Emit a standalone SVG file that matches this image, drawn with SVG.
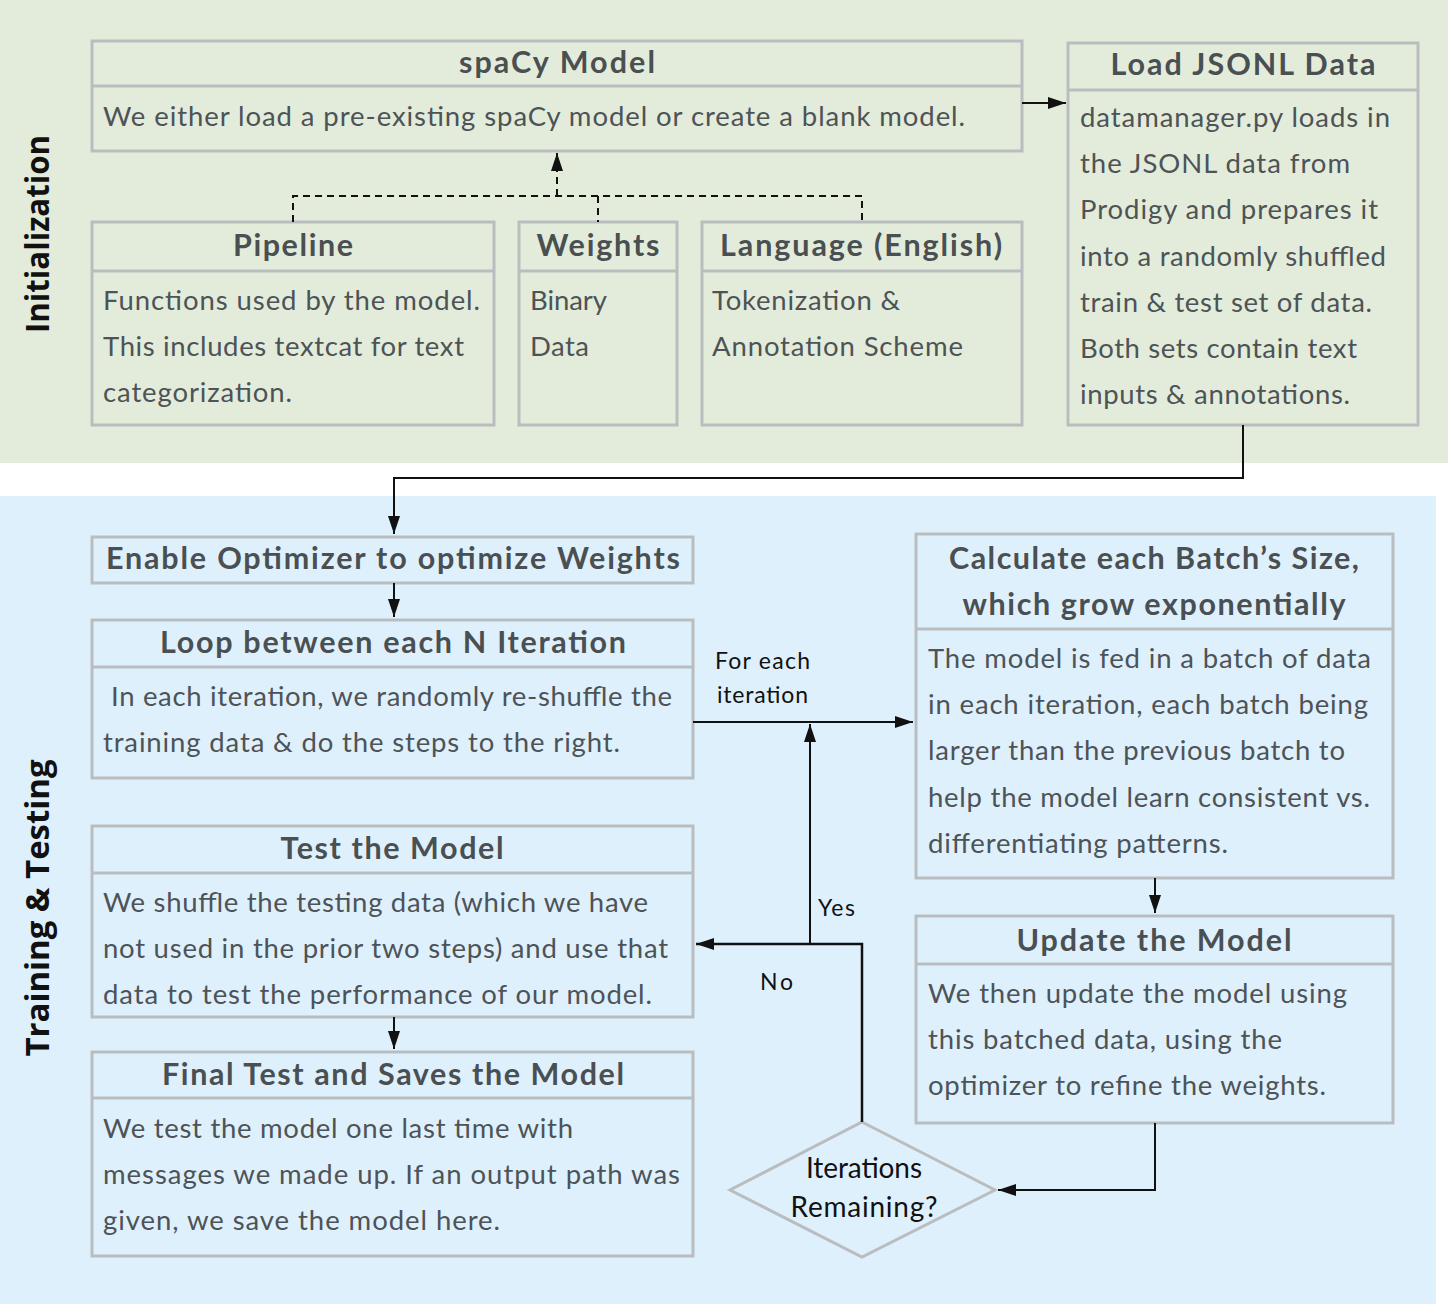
<svg xmlns="http://www.w3.org/2000/svg" width="1448" height="1304" viewBox="0 0 1448 1304">
<defs>
<style>
.box{fill:none;stroke:#babdbf;stroke-width:3}
.div{stroke:#babdbf;stroke-width:3}
text{font-family:Lato,"Liberation Sans",sans-serif}
.t{font-weight:bold;font-size:30.5px;fill:#4a4f52;text-anchor:middle}
.b{font-size:27.5px;fill:#4d5356}
.lab{font-size:23px;fill:#111}
.dia{font-size:28px;fill:#111;text-anchor:middle}
.side{font-family:"Open Sans","Liberation Sans",sans-serif;font-weight:bold;font-size:31.5px;fill:#111;text-anchor:middle}
.c{fill:none;stroke:#111;stroke-width:2}
.d{fill:none;stroke:#111;stroke-width:2;stroke-dasharray:7 5}
</style>
<marker id="ahl" viewBox="0 0 18 12" refX="18" refY="6" markerWidth="18" markerHeight="12" markerUnits="userSpaceOnUse" orient="auto">
<path d="M0,0 L18,6 L0,12 z" fill="#111"/>
</marker>
</defs>
<rect x="0" y="0" width="1448" height="463" fill="#e3ecda"/>
<rect x="0" y="496" width="1436" height="808" fill="#dff0fd"/>
<text class="side" transform="translate(49,234) rotate(-90)" textLength="198" lengthAdjust="spacingAndGlyphs">Initialization</text>
<text class="side" transform="translate(49,908) rotate(-90)" textLength="297" lengthAdjust="spacingAndGlyphs">Training &amp; Testing</text>

<g id="spacy-model">
<rect class="box" x="92" y="41" width="930" height="110"/>
<line class="div" x1="92" y1="86" x2="1022" y2="86"/>
<text class="t" x="557" y="73" textLength="196" lengthAdjust="spacing">spaCy Model</text>
<text class="b" x="103" y="126" textLength="862" lengthAdjust="spacing">We either load a pre-existing spaCy model or create a blank model.</text>
</g>
<g id="load-jsonl">
<rect class="box" x="1068" y="43" width="350" height="382"/>
<line class="div" x1="1068" y1="90" x2="1418" y2="90"/>
<text class="t" x="1243" y="75" textLength="265" lengthAdjust="spacing">Load JSONL Data</text>
<text class="b" x="1080" y="127" textLength="310" lengthAdjust="spacing">datamanager.py loads in</text>
<text class="b" x="1080" y="173" textLength="270" lengthAdjust="spacing">the JSONL data from</text>
<text class="b" x="1080" y="219" textLength="298" lengthAdjust="spacing">Prodigy and prepares it</text>
<text class="b" x="1080" y="266" textLength="306" lengthAdjust="spacing">into a randomly shuffled</text>
<text class="b" x="1080" y="312" textLength="292" lengthAdjust="spacing">train &amp; test set of data.</text>
<text class="b" x="1080" y="358" textLength="277" lengthAdjust="spacing">Both sets contain text</text>
<text class="b" x="1080" y="404" textLength="270" lengthAdjust="spacing">inputs &amp; annotations.</text>
</g>
<g id="pipeline">
<rect class="box" x="92" y="222" width="402" height="203"/>
<line class="div" x1="92" y1="271" x2="494" y2="271"/>
<text class="t" x="293" y="256" textLength="120" lengthAdjust="spacing">Pipeline</text>
<text class="b" x="103" y="310" textLength="377" lengthAdjust="spacing">Functions used by the model.</text>
<text class="b" x="103" y="356" textLength="361" lengthAdjust="spacing">This includes textcat for text</text>
<text class="b" x="103" y="402" textLength="189" lengthAdjust="spacing">categorization.</text>
</g>
<g id="weights">
<rect class="box" x="519" y="222" width="158" height="203"/>
<line class="div" x1="519" y1="271" x2="677" y2="271"/>
<text class="t" x="598" y="256" textLength="123" lengthAdjust="spacing">Weights</text>
<text class="b" x="530" y="310" textLength="77" lengthAdjust="spacing">Binary</text>
<text class="b" x="530" y="356" textLength="59" lengthAdjust="spacing">Data</text>
</g>
<g id="language">
<rect class="box" x="702" y="222" width="320" height="203"/>
<line class="div" x1="702" y1="271" x2="1022" y2="271"/>
<text class="t" x="861" y="256" textLength="282" lengthAdjust="spacing">Language (English)</text>
<text class="b" x="712" y="310" textLength="188" lengthAdjust="spacing">Tokenization &amp;</text>
<text class="b" x="712" y="356" textLength="251" lengthAdjust="spacing">Annotation Scheme</text>
</g>

<g id="enable-optimizer">
<rect class="box" x="92" y="537" width="601" height="46"/>
<text class="t" x="393" y="569" textLength="574" lengthAdjust="spacing">Enable Optimizer to optimize Weights</text>
</g>
<g id="loop">
<rect class="box" x="92" y="620" width="601" height="158"/>
<line class="div" x1="92" y1="667" x2="693" y2="667"/>
<text class="t" x="393" y="653" textLength="466" lengthAdjust="spacing">Loop between each N Iteration</text>
<text class="b" x="111" y="706" textLength="561" lengthAdjust="spacing">In each iteration, we randomly re-shuffle the</text>
<text class="b" x="103" y="752" textLength="517" lengthAdjust="spacing">training data &amp; do the steps to the right.</text>
</g>
<g id="test-model">
<rect class="box" x="92" y="826" width="601" height="191"/>
<line class="div" x1="92" y1="873" x2="693" y2="873"/>
<text class="t" x="392" y="859" textLength="223" lengthAdjust="spacing">Test the Model</text>
<text class="b" x="103" y="912" textLength="545" lengthAdjust="spacing">We shuffle the testing data (which we have</text>
<text class="b" x="103" y="958" textLength="565" lengthAdjust="spacing">not used in the prior two steps) and use that</text>
<text class="b" x="103" y="1004" textLength="549" lengthAdjust="spacing">data to test the performance of our model.</text>
</g>
<g id="final-test">
<rect class="box" x="92" y="1052" width="601" height="204"/>
<line class="div" x1="92" y1="1098" x2="693" y2="1098"/>
<text class="t" x="393" y="1085" textLength="462" lengthAdjust="spacing">Final Test and Saves the Model</text>
<text class="b" x="103" y="1138" textLength="470" lengthAdjust="spacing">We test the model one last time with</text>
<text class="b" x="103" y="1184" textLength="577" lengthAdjust="spacing">messages we made up. If an output path was</text>
<text class="b" x="103" y="1230" textLength="397" lengthAdjust="spacing">given, we save the model here.</text>
</g>
<g id="batch-size">
<rect class="box" x="916" y="534" width="477" height="344"/>
<line class="div" x1="916" y1="629" x2="1393" y2="629"/>
<text class="t" x="1154" y="569" textLength="410" lengthAdjust="spacing">Calculate each Batch’s Size,</text>
<text class="t" x="1154" y="615" textLength="383" lengthAdjust="spacing">which grow exponentially</text>
<text class="b" x="928" y="668" textLength="443" lengthAdjust="spacing">The model is fed in a batch of data</text>
<text class="b" x="928" y="714" textLength="440" lengthAdjust="spacing">in each iteration, each batch being</text>
<text class="b" x="928" y="760" textLength="417" lengthAdjust="spacing">larger than the previous batch to</text>
<text class="b" x="928" y="807" textLength="442" lengthAdjust="spacing">help the model learn consistent vs.</text>
<text class="b" x="928" y="853" textLength="300" lengthAdjust="spacing">differentiating patterns.</text>
</g>
<g id="update-model">
<rect class="box" x="916" y="916" width="477" height="207"/>
<line class="div" x1="916" y1="964" x2="1393" y2="964"/>
<text class="t" x="1154" y="951" textLength="275" lengthAdjust="spacing">Update the Model</text>
<text class="b" x="928" y="1003" textLength="419" lengthAdjust="spacing">We then update the model using</text>
<text class="b" x="928" y="1049" textLength="354" lengthAdjust="spacing">this batched data, using the</text>
<text class="b" x="928" y="1095" textLength="398" lengthAdjust="spacing">optimizer to refine the weights.</text>
</g>
<g id="iterations-remaining">
<polygon points="862,1122 995,1190 862,1257 730,1190" fill="none" stroke="#babdbf" stroke-width="3"/>
<text class="dia" x="864" y="1178" textLength="116" lengthAdjust="spacing">Iterations</text>
<text class="dia" x="864" y="1217" textLength="147" lengthAdjust="spacing">Remaining?</text>
</g>

<g id="connectors">
<path class="d" d="M557,196 L557,153" marker-end="url(#ahl)"/>
<path class="d" d="M293,222 L293,196 L862,196 L862,222"/>
<path class="d" d="M598,196 L598,222"/>
<path class="c" d="M1022,103 L1066,103" marker-end="url(#ahl)"/>
<path class="c" d="M1243,425 L1243,478 L394,478 L394,534" marker-end="url(#ahl)"/>
<path class="c" d="M394,583 L394,617" marker-end="url(#ahl)"/>
<path class="c" d="M394,1017 L394,1049" marker-end="url(#ahl)"/>
<path class="c" d="M1155,878 L1155,913" marker-end="url(#ahl)"/>
<path class="c" d="M693,722 L913,722" marker-end="url(#ahl)"/>
<path class="c" d="M1155,1123 L1155,1190 L998,1190" marker-end="url(#ahl)"/>
<path class="c" d="M862,1122 L862,944 L696,944" marker-end="url(#ahl)" style="stroke-width:2.5"/>
<path class="c" d="M810,944 L810,724" marker-end="url(#ahl)"/>
<text class="lab" x="715" y="669" textLength="95" lengthAdjust="spacing">For each</text>
<text class="lab" x="717" y="703" textLength="91" lengthAdjust="spacing">iteration</text>
<text class="lab" x="818" y="916" textLength="37" lengthAdjust="spacing">Yes</text>
<text class="lab" x="760" y="990" textLength="33" lengthAdjust="spacing">No</text>
</g>
</svg>
